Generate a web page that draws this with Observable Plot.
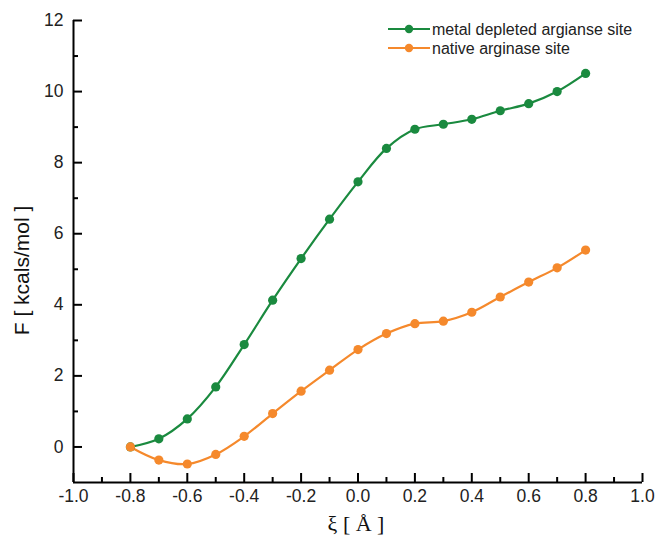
<!DOCTYPE html>
<html>
<head>
<meta charset="utf-8">
<script src="https://cdn.jsdelivr.net/npm/d3@7"></script>
<script src="https://cdn.jsdelivr.net/npm/@observablehq/plot@0.6"></script>
<style>
  html, body { margin: 0; padding: 0; background: #fff; }
  #wrap { position: relative; width: 655px; height: 544px; overflow: hidden; }
  #legend { position: absolute; left: 0; top: 0; }
</style>
</head>
<body>
<div id="wrap"></div>
<script>
const xi = [-0.8, -0.7, -0.6, -0.5, -0.4, -0.3, -0.2, -0.1, 0.0, 0.1, 0.2, 0.3, 0.4, 0.5, 0.6, 0.7, 0.8];
const depleted = [0.0, 0.23, 0.79, 1.69, 2.88, 4.13, 5.3, 6.41, 7.46, 8.4, 8.94, 9.08, 9.22, 9.46, 9.66, 10.0, 10.51];
const native = [0.0, -0.37, -0.48, -0.21, 0.30, 0.94, 1.57, 2.16, 2.74, 3.19, 3.47, 3.54, 3.79, 4.22, 4.64, 5.04, 5.54];
const seriesNames = ["metal depleted argianse site", "native arginase site"];
const seriesColors = ["#1a8a3f", "#f5892c"];
const yMajor = [0, 2, 4, 6, 8, 10, 12];
const yMinor = [1, 3, 5, 7, 9, 11];
const xMajor = [-1.0, -0.8, -0.6, -0.4, -0.2, 0.0, 0.2, 0.4, 0.6, 0.8, 1.0];
const xMinor = [-0.9, -0.7, -0.5, -0.3, -0.1, 0.1, 0.3, 0.5, 0.7, 0.9];
const xLabels = ["-1.0", "-0.8", "-0.6", "-0.4", "-0.2", "0.0", "0.2", "0.4", "0.6", "0.8", "1.0"];
const yTitle = "F [ kcals/mol ]";
const xTitle = "ξ [ Å ]";

const W = 655, H = 544;
const mL = 73, mR = 13, mT = 20, mB = 62;
const pw = W - mL - mR, ph = H - mT - mB;
const sans = "'Liberation Sans', Arial, sans-serif";

const rows = [];
[depleted, native].forEach((vals, s) => {
  xi.forEach((x, i) => rows.push({x, y: vals[i], s: seriesNames[s]}));
});

const chart = Plot.plot({
  width: W, height: H,
  marginLeft: mL, marginRight: mR, marginTop: mT, marginBottom: mB,
  style: {fontFamily: sans, background: "#fff", overflow: "visible"},
  x: {domain: [-1, 1], axis: null},
  y: {domain: [-1, 12], axis: null},
  color: {domain: seriesNames, range: seriesColors},
  marks: [
    // axis lines
    Plot.ruleX([-1], {y1: -1, y2: 12, stroke: "#000", strokeWidth: 2}),
    Plot.ruleY([-1], {x1: -1, x2: 1, stroke: "#000", strokeWidth: 2}),
    // inward ticks
    Plot.tickY(yMajor, {y: d => d, insetRight: pw - 9, stroke: "#000", strokeWidth: 2}),
    Plot.tickY(yMinor, {y: d => d, insetRight: pw - 5, stroke: "#000", strokeWidth: 2}),
    Plot.tickX(xMajor, {x: d => d, insetTop: ph - 9, stroke: "#000", strokeWidth: 2}),
    Plot.tickX(xMinor, {x: d => d, insetTop: ph - 5, stroke: "#000", strokeWidth: 2}),
    // tick labels
    Plot.text(yMajor, {y: d => d, frameAnchor: "left", dx: -10, textAnchor: "end", text: d => String(d), fontSize: 17.5, fill: "#222"}),
    Plot.text(xMajor, {x: d => d, frameAnchor: "bottom", dy: 19, text: (d, i) => xLabels[i], fontSize: 17.5, fill: "#222"}),
    // titles
    Plot.text([yTitle], {frameAnchor: "left", dx: -51, dy: 19, rotate: -90, textAnchor: "middle", text: d => d, fontSize: 21, fill: "#111"}),
    Plot.text([xTitle], {frameAnchor: "bottom", dx: -2, dy: 48, text: d => d, fontSize: 22, fill: "#111", fontFamily: "'Liberation Serif', 'Times New Roman', serif"}),
    // series
    Plot.line(rows, {x: "x", y: "y", z: "s", stroke: "s", strokeWidth: 2.2, curve: "catmull-rom"}),
    Plot.dot(rows, {x: "x", y: "y", fill: "s", r: 4.6, stroke: "none"})
  ]
});

const wrap = document.getElementById("wrap");
wrap.appendChild(chart);

// legend overlay
const lg = d3.select(wrap).append("svg").attr("id", "legend")
  .attr("width", W).attr("height", 70)
  .style("font-family", sans);
seriesNames.forEach((name, i) => {
  const cy = 29 + i * 19;
  const g = lg.append("g");
  g.append("line").attr("x1", 388).attr("x2", 430).attr("y1", cy).attr("y2", cy)
    .attr("stroke", seriesColors[i]).attr("stroke-width", 2.2);
  g.append("circle").attr("cx", 409).attr("cy", cy).attr("r", 4.2).attr("fill", seriesColors[i]);
  g.append("text").attr("x", 432).attr("y", cy).attr("dy", "0.35em")
    .attr("font-size", 16).attr("fill", "#222").text(name);
});
</script>
</body>
</html>
